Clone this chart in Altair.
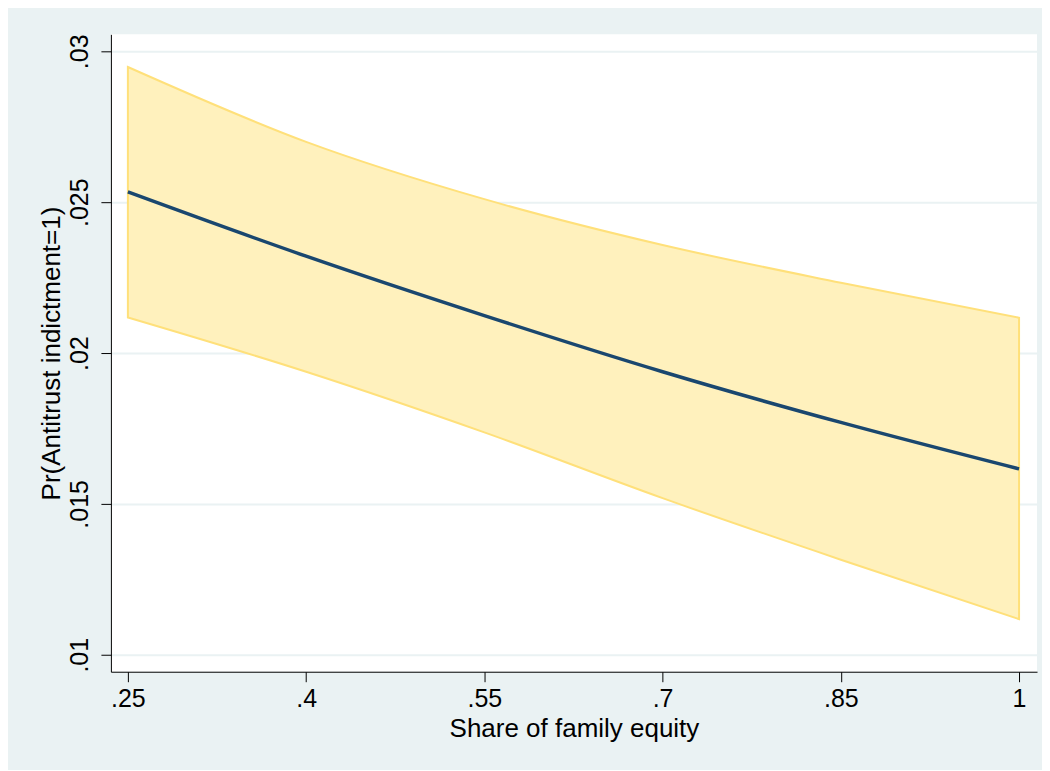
import altair as alt
import pandas as pd

share = [0.25, 0.40, 0.55, 0.70, 0.85, 1.00]
prob = [0.02534, 0.02321, 0.02124, 0.01938, 0.01770, 0.01616]
lower = [0.02118, 0.01938, 0.01737, 0.01519, 0.01315, 0.01118]
upper = [0.02948, 0.02700, 0.02510, 0.02358, 0.02233, 0.02117]

x_ticks = [0.25, 0.40, 0.55, 0.70, 0.85, 1.00]
y_ticks = [0.01, 0.015, 0.02, 0.025, 0.03]

df = pd.DataFrame({"share": share, "prob": prob, "lower": lower, "upper": upper})

FONT = "Liberation Sans"
lab = "replace(format(datum.value, '.3~f'), /^0\\./, '.')"

x_enc = alt.X(
    "share:Q",
    scale=alt.Scale(domain=[0.2357, 1.0151], nice=False, zero=False),
    axis=alt.Axis(
        values=x_ticks, labelExpr=lab, title="Share of family equity",
        grid=False, tickSize=10, tickColor="#000", domainColor="#000",
        labelPadding=5, titlePadding=4, labelFontSize=25, titleFontSize=26,
        labelFont=FONT, titleFont=FONT, labelColor="#000", titleColor="#000",
        titleFontWeight="normal", labelFlush=False,
    ),
)
y_scale = alt.Scale(domain=[0.009437, 0.030563], nice=False, zero=False)
y_axis = alt.Axis(
    values=y_ticks, labelExpr=lab, title="Pr(Antitrust indictment=1)",
    grid=True, gridColor="#EAF2F3", gridWidth=2,
    tickSize=10, tickColor="#000", domainColor="#000",
    labelAngle=270, labelAlign="center", labelBaseline="bottom",
    labelPadding=8, titlePadding=3, labelFontSize=25, titleFontSize=26,
    labelFont=FONT, titleFont=FONT, labelColor="#000", titleColor="#000",
    titleFontWeight="normal",
)

band = alt.Chart(df).mark_area(
    fill="#FFF1BD", stroke="#FFE07A", strokeWidth=2, interpolate="monotone"
).encode(
    x=x_enc,
    y=alt.Y("lower:Q", scale=y_scale, axis=y_axis),
    y2="upper:Q",
)

line = alt.Chart(df).mark_line(
    color="#1A476F", strokeWidth=3.5, interpolate="monotone"
).encode(
    x=alt.X("share:Q"),
    y=alt.Y("prob:Q"),
)

chart = alt.layer(band, line).properties(
    width=927, height=638,
    autosize=alt.AutoSizeParams(type="none"),
    padding={"left": 103, "top": 26, "right": 5, "bottom": 98},
    background="#EAF2F3",
).configure_view(fill="white", stroke=None)

chart.save("out.html", embed_options={"renderer": "svg", "actions": False})
